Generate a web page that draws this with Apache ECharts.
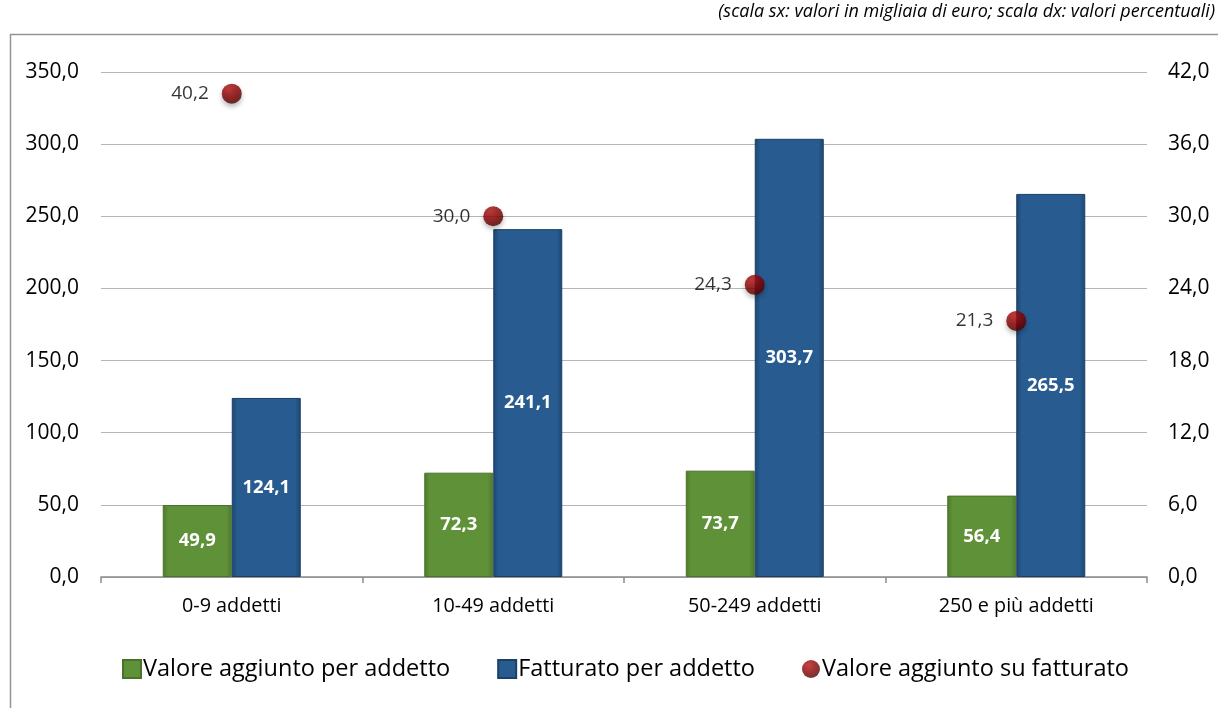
<!DOCTYPE html>
<html>
<head>
<meta charset="utf-8">
<script src="https://cdn.jsdelivr.net/npm/echarts@6/dist/echarts.min.js"></script>
<style>
html, body { margin: 0; padding: 0; background: #fff; }
#chart { width: 1218px; height: 708px; }
</style>
</head>
<body>
<div id="chart"></div>
<script>
const categories = ['0-9 addetti', '10-49 addetti', '50-249 addetti', '250 e più addetti']
const valoreAggiunto = [49.9, 72.3, 73.7, 56.4]
const fatturato = [124.1, 241.1, 303.7, 265.5]
const quota = [40.2, 30.0, 24.3, 21.3]
const seriesNames = ['Valore aggiunto per addetto', 'Fatturato per addetto', 'Valore aggiunto su fatturato']
const note = '(scala sx: valori in migliaia di euro; scala dx: valori percentuali)'

const fmt = v => Number(v).toFixed(1).replace('.', ',')
const font = '"Open Sans", Lato, sans-serif'

const chart = echarts.init(document.getElementById('chart'))

const barLabel = {
    show: true,
    position: 'inside',
    color: '#fff',
    fontWeight: 'bold',
    fontSize: 18.5,
    formatter: p => fmt(p.value)
}

const option = {
    animation: false,
    textStyle: { fontFamily: font },
    graphic: [
        {
            type: 'rect',
            shape: { x: 10.5, y: 34.5, width: 1220, height: 700 },
            style: { fill: 'none', stroke: '#959595', lineWidth: 1.5 }
        },
        {
            type: 'text',
            right: 3,
            top: 3,
            style: {
                text: note,
                font: 'italic 18px ' + font,
                fill: '#000'
            }
        }
    ],
    grid: { left: 101, right: 71, top: 72, bottom: 131 },
    legend: {
        bottom: 22,
        left: 117,
        itemWidth: 18,
        itemHeight: 18,
        itemGap: 47,
        textStyle: { fontSize: 23.5, color: '#000', padding: [0, 0, 0, -3] },
        data: [
            { name: seriesNames[0], icon: 'rect' },
            { name: seriesNames[1], icon: 'rect' },
            { name: seriesNames[2], icon: 'circle' }
        ]
    },
    xAxis: {
        type: 'category',
        data: categories,
        axisLine: { lineStyle: { color: '#8a8a8a', width: 1.5 } },
        axisTick: { show: true, length: 6, lineStyle: { color: '#8a8a8a', width: 1.5 } },
        axisLabel: { fontSize: 19.8, color: '#000', margin: 19 }
    },
    yAxis: [
        {
            type: 'value',
            min: 0,
            max: 350,
            interval: 50,
            axisLine: { show: false },
            axisTick: { show: false },
            splitLine: { lineStyle: { color: '#b5b5b5', width: 1.2 } },
            axisLabel: { fontSize: 21, color: '#000', margin: 22, formatter: fmt }
        },
        {
            type: 'value',
            min: 0,
            max: 42,
            interval: 6,
            axisLine: { show: false },
            axisTick: { show: false },
            splitLine: { show: false },
            axisLabel: { fontSize: 21, color: '#000', margin: 21, formatter: fmt }
        }
    ],
    series: [
        {
            name: seriesNames[0],
            type: 'bar',
            data: valoreAggiunto,
            barWidth: 69,
            barGap: '0%',
            itemStyle: {
                color: new echarts.graphic.LinearGradient(0, 0, 1, 0, [
                    { offset: 0, color: '#4e7a2c' },
                    { offset: 0.08, color: '#5f9139' },
                    { offset: 0.92, color: '#5f9139' },
                    { offset: 1, color: '#4e7a2c' }
                ]),
                borderColor: '#4a7229',
                borderWidth: 1
            },
            label: barLabel
        },
        {
            name: seriesNames[1],
            type: 'bar',
            data: fatturato,
            barWidth: 69,
            itemStyle: {
                color: new echarts.graphic.LinearGradient(0, 0, 1, 0, [
                    { offset: 0, color: '#1d4672' },
                    { offset: 0.08, color: '#285b8f' },
                    { offset: 0.92, color: '#285b8f' },
                    { offset: 1, color: '#1d4672' }
                ]),
                borderColor: '#1b3f66',
                borderWidth: 1
            },
            label: barLabel
        },
        {
            name: seriesNames[2],
            type: 'scatter',
            yAxisIndex: 1,
            data: quota,
            symbol: 'circle',
            symbolSize: 20,
            itemStyle: {
                color: new echarts.graphic.RadialGradient(0.38, 0.3, 0.75, [
                    { offset: 0, color: '#b51414' },
                    { offset: 0.5, color: '#8a0000' },
                    { offset: 1, color: '#4a0000' }
                ]),
                shadowColor: 'rgba(0,0,0,0.35)',
                shadowBlur: 5,
                shadowOffsetY: 3
            },
            label: {
                show: true,
                position: 'left',
                distance: 13,
                color: '#000',
                fontSize: 19,
                formatter: p => fmt(p.value)
            }
        }
    ]
}

chart.setOption(option)
</script>
</body>
</html>
